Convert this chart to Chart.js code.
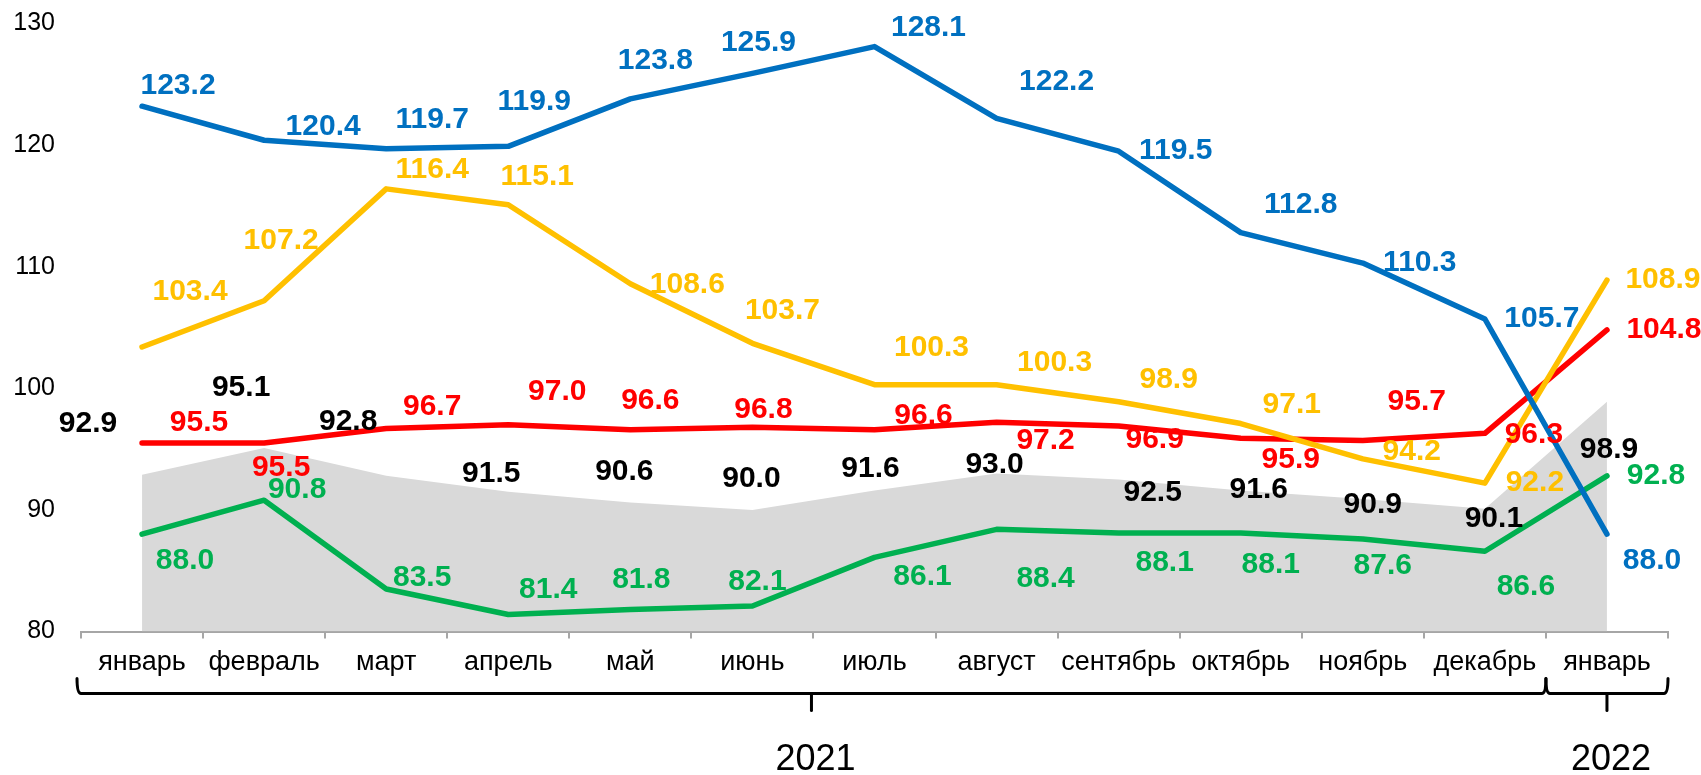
<!DOCTYPE html>
<html><head><meta charset="utf-8">
<script src="https://cdn.jsdelivr.net/npm/chart.js@4.4.0/dist/chart.umd.min.js"></script>
<style>html,body{margin:0;padding:0;background:#fff;}canvas{display:block;}</style>
</head><body>
<canvas id="c" width="1701" height="775"></canvas>
<script>
// ---- data ----
const categories = ['январь','февраль','март','апрель','май','июнь','июль','август','сентябрь','октябрь','ноябрь','декабрь','январь'];
const years = ['2021','2022'];
const yearSpans = [[0, 11], [12, 12]];
const yTicks = [80, 90, 100, 110, 120, 130];

const blueValues   = [123.2, 120.4, 119.7, 119.9, 123.8, 125.9, 128.1, 122.2, 119.5, 112.8, 110.3, 105.7, 88.0];
const yellowValues = [103.4, 107.2, 116.4, 115.1, 108.6, 103.7, 100.3, 100.3, 98.9, 97.1, 94.2, 92.2, 108.9];
const redValues    = [95.5, 95.5, 96.7, 97.0, 96.6, 96.8, 96.6, 97.2, 96.9, 95.9, 95.7, 96.3, 104.8];
const greenValues  = [88.0, 90.8, 83.5, 81.4, 81.8, 82.1, 86.1, 88.4, 88.1, 88.1, 87.6, 86.6, 92.8];
const grayValues   = [92.9, 95.1, 92.8, 91.5, 90.6, 90.0, 91.6, 93.0, 92.5, 91.6, 90.9, 90.1, 98.9];

// ---- label placement (pixel offsets from each point) ----
const blueLabelOffsets   = [[36,-20],[59,-14],[46,-29],[26,-45],[25,-38],[6,-31],[54,-19],[60,-37],[57,0],[60,-28],[57,0],[57,0],[45,27]];
const yellowLabelOffsets = [[48,-55],[17,-60],[46,-19],[29,-28],[57,1],[30,-33],[57,-37],[58,-22],[50,-22],[51,-19],[49,-7],[50,0],[56,0]];
const redLabelOffsets    = [[57,-20],[17,25],[46,-22],[49,-33],[20,-29],[11,-17],[49,-14],[49,18],[36,14],[50,22],[54,-39],[49,1],[57,0]];
const greenLabelOffsets  = [[43,27],[33,-10],[36,-11],[40,-25],[11,-30],[5,-24],[48,19],[49,49],[46,30],[30,32],[20,27],[41,35],[49,0]];
const grayLabelOffsets   = [[-54,-51],[-23,-60],[-38,-54],[-17,-18],[-6,-31],[-1,-31],[-4,-22],[-2,-9],[34,13],[18,-1],[10,6],[9,10],[2,48]];

const FONT = '"Liberation Sans", Arial, sans-serif';
Chart.defaults.font.family = FONT;

const labelPlugin = {
  id: 'valueLabels',
  afterDatasetsDraw(chart) {
    const ctx = chart.ctx;
    ctx.save();
    ctx.font = 'bold 30px ' + FONT;
    ctx.textAlign = 'center';
    ctx.textBaseline = 'middle';
    chart.data.datasets.forEach((ds, di) => {
      if (!ds.labelOffsets) return;
      const meta = chart.getDatasetMeta(di);
      ctx.fillStyle = ds.labelColor;
      meta.data.forEach((pt, i) => {
        const o = ds.labelOffsets[i];
        ctx.fillText(ds.data[i].toFixed(1), pt.x + o[0], pt.y + o[1]);
      });
    });
    ctx.restore();
  }
};

const bracketPlugin = {
  id: 'yearBrackets',
  afterDraw(chart) {
    const x = chart.scales.x;
    const ctx = chart.ctx;
    const half = (x.getPixelForValue(1) - x.getPixelForValue(0)) / 2;
    const yTop = x.top + 47, yLine = x.top + 62, yTick = x.top + 79, yText = x.top + 129;
    ctx.save();
    ctx.strokeStyle = '#000';
    ctx.lineWidth = 3;
    ctx.lineJoin = 'round';
    ctx.lineCap = 'round';
    ctx.fillStyle = '#000';
    ctx.font = '36px ' + FONT;
    ctx.textAlign = 'center';
    ctx.textBaseline = 'middle';
    yearSpans.forEach((span, k) => {
      let x0 = x.getPixelForValue(span[0]) - half;
      const x1 = x.getPixelForValue(span[1]) + half;
      if (k === 0) x0 -= 4;
      const mid = (x0 + x1) / 2;
      ctx.beginPath();
      ctx.moveTo(x0, yTop);
      ctx.quadraticCurveTo(x0, yLine, x0 + 4, yLine);
      ctx.lineTo(x1 - 4, yLine);
      ctx.quadraticCurveTo(x1, yLine, x1, yTop);
      ctx.stroke();
      ctx.beginPath();
      ctx.moveTo(mid, yLine);
      ctx.lineTo(mid, yTick);
      ctx.stroke();
      ctx.fillText(years[k], mid + 4, yText);
    });
    ctx.restore();
  }
};

new Chart(document.getElementById('c'), {
  type: 'line',
  data: {
    labels: categories,
    datasets: [
      { label: 'blue', data: blueValues, borderColor: '#0070C0', borderWidth: 5.5, pointRadius: 0, fill: false, order: 1,
        labelColor: '#0070C0', labelOffsets: blueLabelOffsets },
      { label: 'yellow', data: yellowValues, borderColor: '#FFC000', borderWidth: 5.5, pointRadius: 0, fill: false, order: 2,
        labelColor: '#FFC000', labelOffsets: yellowLabelOffsets },
      { label: 'red', data: redValues, borderColor: '#FF0000', borderWidth: 5.5, pointRadius: 0, fill: false, order: 3,
        labelColor: '#FF0000', labelOffsets: redLabelOffsets },
      { label: 'green', data: greenValues, borderColor: '#00B050', borderWidth: 5.5, pointRadius: 0, fill: false, order: 4,
        labelColor: '#00B050', labelOffsets: greenLabelOffsets },
      { label: 'gray', data: grayValues, borderColor: 'rgba(0,0,0,0)', backgroundColor: '#D9D9D9', borderWidth: 0, pointRadius: 0,
        fill: 'start', order: 5, labelColor: '#000000', labelOffsets: grayLabelOffsets }
    ]
  },
  options: {
    responsive: false,
    animation: false,
    devicePixelRatio: 1,
    layout: { padding: { top: 23.5, right: 33, left: 0, bottom: 0 } },
    plugins: { legend: { display: false }, tooltip: { enabled: false } },
    elements: { line: { tension: 0, borderCapStyle: 'round', borderJoinStyle: 'round' } },
    scales: {
      x: {
        offset: true,
        grid: { display: true, drawOnChartArea: false, drawTicks: true, tickLength: 7, color: '#A6A6A6', lineWidth: 2, offset: true },
        border: { display: true, color: '#A6A6A6', width: 2 },
        ticks: { color: '#000', font: { size: 27 }, padding: 8, maxRotation: 0, minRotation: 0, autoSkip: false },
        afterFit(s) { s.height = 143.5; }
      },
      y: {
        min: 80, max: 130,
        afterBuildTicks(s) { s.ticks = yTicks.map(v => ({ value: v })); },
        grid: { display: false, drawTicks: true, tickLength: 26 },
        border: { display: false },
        ticks: { color: '#000', font: { size: 25 }, padding: 0 },
        afterFit(s) { s.width = 81; }
      }
    }
  },
  plugins: [labelPlugin, bracketPlugin]
});
</script>
</body></html>
